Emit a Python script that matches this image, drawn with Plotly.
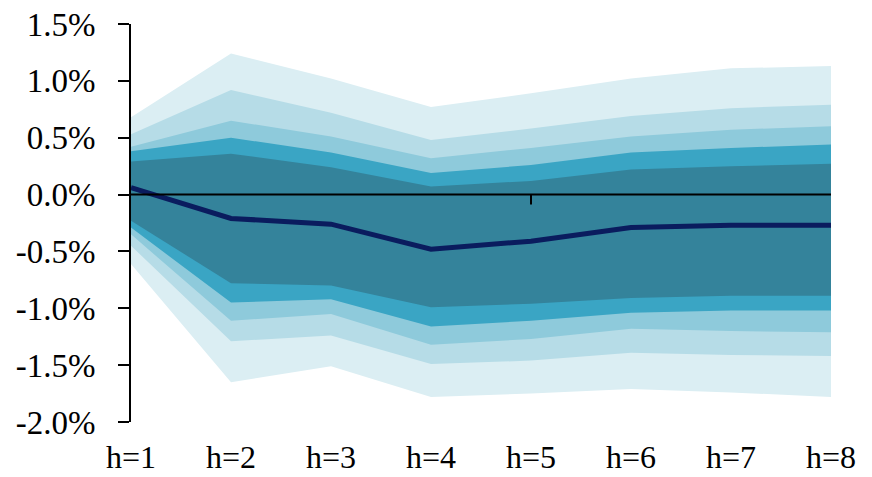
import plotly.graph_objects as go

horizons = ["h=1", "h=2", "h=3", "h=4", "h=5", "h=6", "h=7", "h=8"]
steps = [1, 2, 3, 4, 5, 6, 7, 8]

median = [0.06, -0.21, -0.26, -0.48, -0.41, -0.29, -0.27, -0.27]

upper_90 = [0.68, 1.24, 1.02, 0.77, 0.89, 1.02, 1.11, 1.13]
upper_80 = [0.53, 0.92, 0.72, 0.48, 0.58, 0.69, 0.76, 0.79]
upper_70 = [0.42, 0.65, 0.51, 0.32, 0.41, 0.51, 0.57, 0.60]
upper_60 = [0.38, 0.50, 0.37, 0.19, 0.26, 0.37, 0.41, 0.44]
upper_50 = [0.29, 0.36, 0.24, 0.07, 0.12, 0.22, 0.25, 0.27]

lower_50 = [-0.23, -0.78, -0.80, -0.99, -0.96, -0.91, -0.89, -0.89]
lower_60 = [-0.29, -0.95, -0.92, -1.16, -1.11, -1.04, -1.02, -1.02]
lower_70 = [-0.35, -1.11, -1.05, -1.32, -1.27, -1.18, -1.20, -1.21]
lower_80 = [-0.45, -1.29, -1.24, -1.49, -1.46, -1.39, -1.41, -1.42]
lower_90 = [-0.61, -1.65, -1.51, -1.78, -1.75, -1.71, -1.74, -1.78]

y_tickvals = [-2.0, -1.5, -1.0, -0.5, 0.0, 0.5, 1.0, 1.5]
y_ticktext = ["-2.0%", "-1.5%", "-1.0%", "-0.5%", "0.0%", "0.5%", "1.0%", "1.5%"]

bands = [
    (upper_90, lower_90, "#DBEEF3"),
    (upper_80, lower_80, "#B6DCE7"),
    (upper_70, lower_70, "#8ECADB"),
    (upper_60, lower_60, "#3AA5C4"),
    (upper_50, lower_50, "#34839B"),
]

fig = go.Figure()
for up, lo, col in bands:
    fig.add_trace(go.Scatter(
        x=steps + steps[::-1],
        y=up + lo[::-1],
        fill="toself",
        fillcolor=col,
        line=dict(width=0),
        mode="lines",
        hoverinfo="skip",
        showlegend=False,
    ))

fig.add_trace(go.Scatter(
    x=steps, y=median, mode="lines",
    line=dict(color="#0A1C5E", width=5),
    showlegend=False,
))

# zero axis line
fig.add_shape(type="line", xref="x", yref="y", x0=steps[0], x1=steps[-1], y0=0, y1=0,
              line=dict(color="black", width=2), layer="above")
# small tick mark on the zero line
fig.add_shape(type="line", xref="x", yref="y", ysizemode="pixel", yanchor=0,
              x0=steps[4], x1=steps[4], y0=0, y1=-10,
              line=dict(color="black", width=2), layer="above")

font_family = "Liberation Serif"
fig.update_layout(
    width=872, height=477,
    margin=dict(l=131, r=41, t=24, b=55),
    plot_bgcolor="white", paper_bgcolor="white",
    font=dict(family=font_family, size=33, color="black"),
)
fig.update_xaxes(
    range=[1, 8],
    tickvals=steps, ticktext=horizons,
    showline=False, showgrid=False, zeroline=False,
    ticks="", ticklabelstandoff=13, automargin=False,
    tickfont=dict(family=font_family, size=32, color="black"),
)
fig.update_yaxes(
    range=[-2.0, 1.5],
    tickvals=y_tickvals, ticktext=y_ticktext,
    showline=True, linecolor="black", linewidth=2,
    ticks="outside", ticklen=11, tickwidth=2, tickcolor="black",
    showgrid=False, zeroline=False,
    ticklabelstandoff=16, automargin=False,
    layer="above traces",
    tickfont=dict(family=font_family, size=33, color="black"),
)

fig.write_html("out.html")
